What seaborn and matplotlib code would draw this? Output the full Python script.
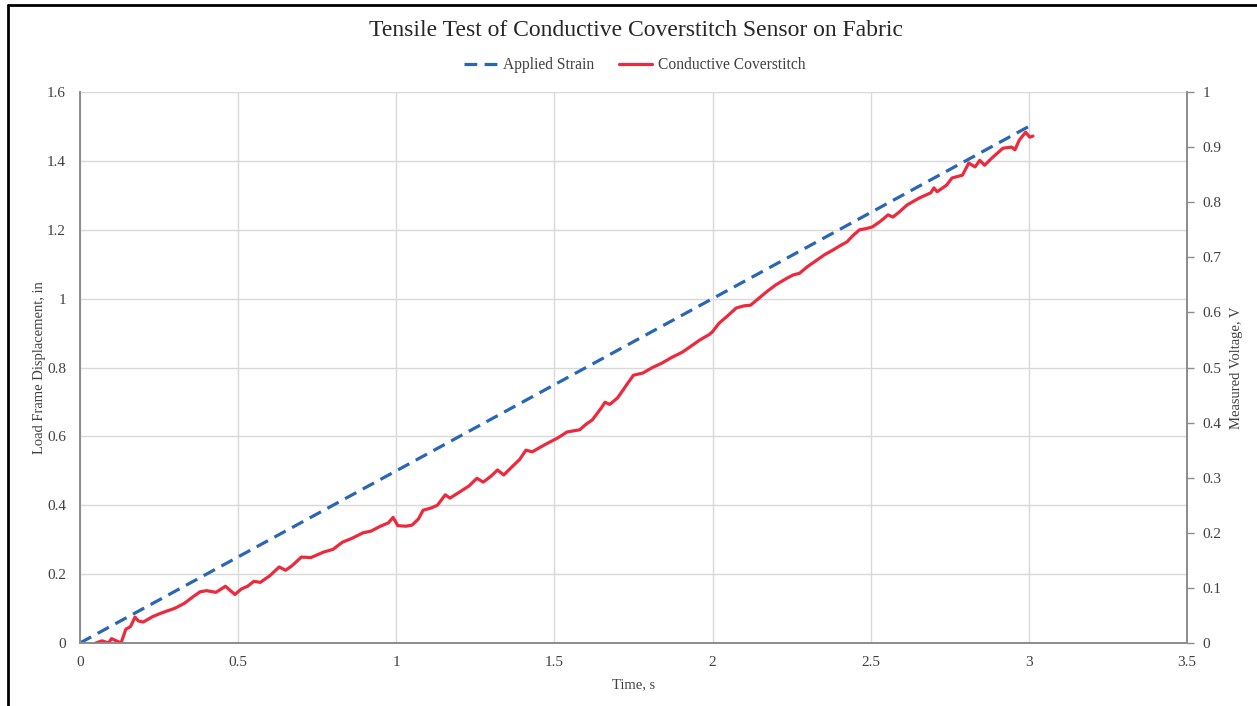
import seaborn as sns
import matplotlib.pyplot as plt
import matplotlib.ticker as mtick
from matplotlib.lines import Line2D
import pandas as pd

# Applied strain (load frame displacement, in) vs time, s
strain_time = [0.0, 3.0]
strain_disp = [0.0, 1.5]

# Conductive coverstitch measured voltage, V vs time, s
volt_time = [0.05, 0.07, 0.09, 0.10, 0.115, 0.13, 0.145, 0.16, 0.174, 0.185,
             0.20, 0.23, 0.26, 0.30, 0.33, 0.36, 0.38, 0.40, 0.43, 0.46,
             0.49, 0.51, 0.53, 0.55, 0.57, 0.60, 0.63, 0.65, 0.67, 0.70,
             0.73, 0.77, 0.80, 0.83, 0.86, 0.895, 0.92, 0.95, 0.975, 0.99,
             1.005, 1.03, 1.05, 1.07, 1.085, 1.11, 1.13, 1.155, 1.17, 1.20,
             1.23, 1.255, 1.275, 1.30, 1.32, 1.34, 1.37, 1.39, 1.41, 1.43,
             1.47, 1.51, 1.54, 1.58, 1.60, 1.62, 1.65, 1.66, 1.675, 1.70,
             1.73, 1.75, 1.78, 1.81, 1.84, 1.87, 1.905, 1.93, 1.96, 1.99,
             2.0, 2.02, 2.05, 2.075, 2.10, 2.12, 2.145, 2.17, 2.20, 2.235,
             2.255, 2.275, 2.30, 2.33, 2.355, 2.38, 2.40, 2.425, 2.445, 2.465,
             2.485, 2.505, 2.53, 2.555, 2.57, 2.59, 2.615, 2.655, 2.69, 2.70,
             2.71, 2.74, 2.757, 2.79, 2.81, 2.83, 2.845, 2.86, 2.883, 2.918,
             2.946, 2.956, 2.97, 2.99, 3.003, 3.013]
volt_value = [0.0, 0.004, 0.0, 0.008, 0.004, 0.0, 0.025, 0.03, 0.047, 0.04,
              0.038, 0.048, 0.055, 0.063, 0.072, 0.085, 0.093, 0.095, 0.092, 0.103,
              0.088, 0.098, 0.103, 0.112, 0.110, 0.122, 0.138, 0.132, 0.140, 0.156,
              0.155, 0.165, 0.170, 0.183, 0.190, 0.200, 0.203, 0.212, 0.218, 0.228,
              0.213, 0.212, 0.214, 0.225, 0.241, 0.245, 0.250, 0.269, 0.263, 0.274,
              0.285, 0.299, 0.292, 0.303, 0.314, 0.305, 0.322, 0.333, 0.350, 0.347,
              0.360, 0.372, 0.383, 0.387, 0.397, 0.405, 0.428, 0.437, 0.433, 0.445,
              0.470, 0.486, 0.490, 0.500, 0.508, 0.518, 0.528, 0.538, 0.550, 0.560,
              0.565, 0.580, 0.595, 0.608, 0.612, 0.613, 0.625, 0.637, 0.650, 0.662,
              0.668, 0.671, 0.683, 0.695, 0.705, 0.713, 0.720, 0.728, 0.740, 0.750,
              0.752, 0.755, 0.765, 0.777, 0.773, 0.782, 0.795, 0.808, 0.817, 0.826,
              0.819, 0.831, 0.844, 0.849, 0.871, 0.864, 0.876, 0.867, 0.880, 0.898,
              0.900, 0.895, 0.913, 0.927, 0.918, 0.920]

x_ticks = [0, 0.5, 1, 1.5, 2, 2.5, 3, 3.5]
left_ticks = [0, 0.2, 0.4, 0.6, 0.8, 1.0, 1.2, 1.4, 1.6]
right_ticks = [0, 0.1, 0.2, 0.3, 0.4, 0.5, 0.6, 0.7, 0.8, 0.9, 1.0]

strain_df = pd.DataFrame({'Time': strain_time, 'Disp': strain_disp})
volt_df = pd.DataFrame({'Time': volt_time, 'Volt': volt_value})

blue = '#2A66B4'
red = '#EC2A3E'
axis_grey = '#8C8C8C'
text_grey = '#404040'
dash = (0, (4, 2.3))

sns.set_style("white")
plt.rcParams['font.family'] = ['Liberation Serif', 'DejaVu Serif']

fig = plt.figure(figsize=(12.57, 7.06), dpi=100)
ax = fig.add_axes([0.0636, 0.0892, 0.8807, 0.7805])
ax2 = ax.twinx()

sns.lineplot(data=strain_df, x='Time', y='Disp', ax=ax, color=blue,
             linewidth=2.3, linestyle=dash, estimator=None)
sns.lineplot(data=volt_df, x='Time', y='Volt', ax=ax2, color=red,
             linewidth=2.3, estimator=None)

ax.set_xlim(0, 3.5)
ax.set_ylim(0, 1.6)
ax2.set_ylim(0, 1.0)
ax.set_xticks(x_ticks)
ax.set_yticks(left_ticks)
ax2.set_yticks(right_ticks)
fmt = mtick.FuncFormatter(lambda v, _: f"{v:g}")
ax.xaxis.set_major_formatter(fmt)
ax.yaxis.set_major_formatter(fmt)
ax2.yaxis.set_major_formatter(fmt)

ax.grid(True, color='#D9D9D9', linewidth=1.0)
ax.set_axisbelow(True)

for a in (ax, ax2):
    a.spines['top'].set_visible(False)
    for s in ('left', 'bottom', 'right'):
        a.spines[s].set_color(axis_grey)
        a.spines[s].set_linewidth(1.2)

ax.tick_params(axis='both', length=0, labelsize=11, labelcolor=text_grey)
ax.tick_params(axis='x', pad=9)
ax.tick_params(axis='y', pad=10)
ax2.tick_params(axis='y', length=5, width=1.0, color=axis_grey, direction='out',
                labelsize=11, labelcolor=text_grey, pad=6)

ax.set_xlabel("Time, s", fontsize=10.5, color=text_grey, labelpad=7)
ax.set_ylabel("Load Frame Displacement, in", fontsize=10.5, color=text_grey, labelpad=1)
ax2.set_ylabel("Measured Voltage, V", fontsize=10.5, color=text_grey, labelpad=6)

fig.suptitle("Tensile Test of Conductive Coverstitch Sensor on Fabric",
             x=0.506, y=1 - 31 / 706, va='center', fontsize=17, color='#262626')

handles = [Line2D([], [], color=blue, linewidth=2.3, linestyle=dash),
           Line2D([], [], color=red, linewidth=2.3)]
fig.legend(handles, ["Applied Strain", "Conductive Coverstitch"],
           loc='center', bbox_to_anchor=(0.505, 1 - 65 / 706), ncol=2, frameon=False,
           fontsize=11.2, labelcolor=text_grey, handlelength=2.15, columnspacing=1.6,
           handletextpad=0.35)

# screenshot frame at left and top
fig.add_artist(Line2D([8 / 1257, 8 / 1257], [0, 1 - 5 / 706], color='black',
                      linewidth=2.0, transform=fig.transFigure))
fig.add_artist(Line2D([8 / 1257, 1], [1 - 5 / 706, 1 - 5 / 706], color='black',
                      linewidth=2.0, transform=fig.transFigure))

fig.savefig('out.png', dpi=100)
